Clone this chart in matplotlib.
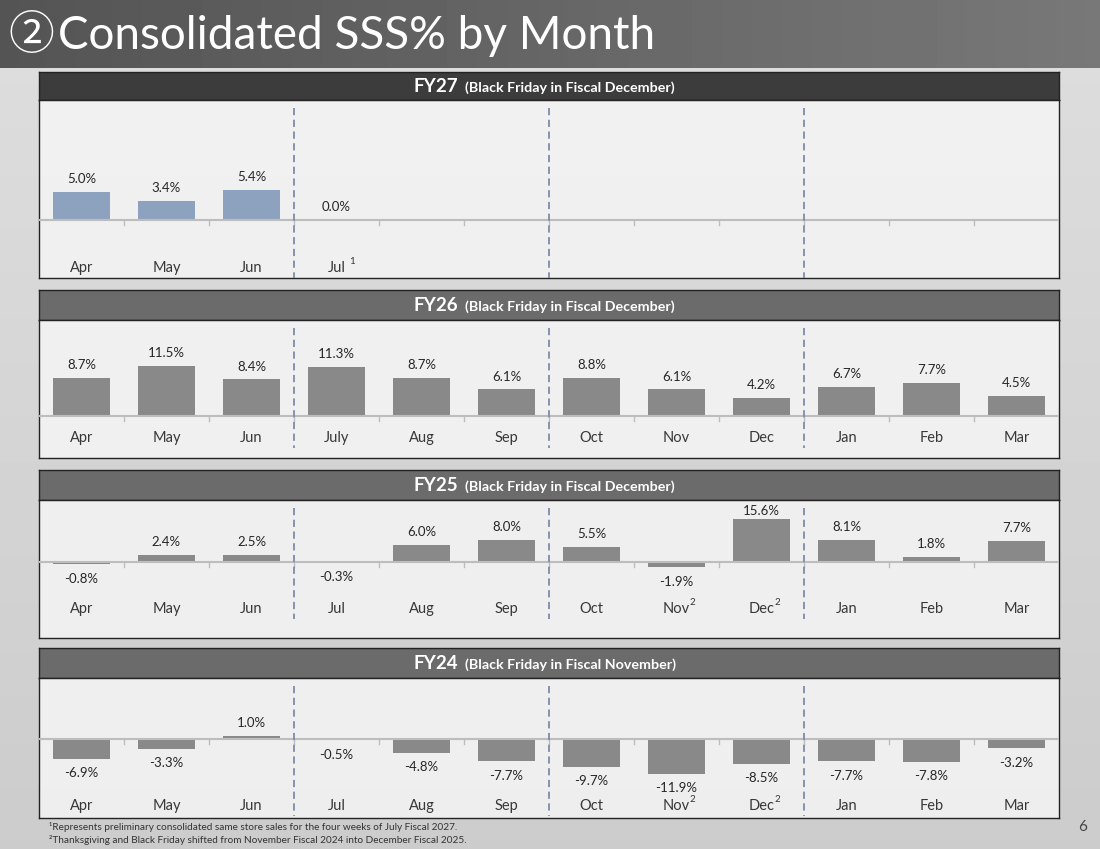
import numpy as np
import matplotlib.pyplot as plt
import matplotlib.transforms as mtransforms

plt.rcParams['font.family'] = ['Lato', 'DejaVu Sans']

months_27 = ['Apr', 'May', 'Jun', 'Jul']
sss_27 = [5.0, 3.4, 5.4, 0.0]

months_26 = ['Apr', 'May', 'Jun', 'July', 'Aug', 'Sep', 'Oct', 'Nov', 'Dec', 'Jan', 'Feb', 'Mar']
sss_26 = [8.7, 11.5, 8.4, 11.3, 8.7, 6.1, 8.8, 6.1, 4.2, 6.7, 7.7, 4.5]

months_25 = ['Apr', 'May', 'Jun', 'Jul', 'Aug', 'Sep', 'Oct', 'Nov', 'Dec', 'Jan', 'Feb', 'Mar']
sss_25 = [-0.8, 2.4, 2.5, -0.3, 6.0, 8.0, 5.5, -1.9, 15.6, 8.1, 1.8, 7.7]

months_24 = ['Apr', 'May', 'Jun', 'Jul', 'Aug', 'Sep', 'Oct', 'Nov', 'Dec', 'Jan', 'Feb', 'Mar']
sss_24 = [-6.9, -3.3, 1.0, -0.5, -4.8, -7.7, -9.7, -11.9, -8.5, -7.7, -7.8, -3.2]

notes_27 = {'Jul': '1'}
notes_25 = {'Nov': '2', 'Dec': '2'}
notes_24 = {'Nov': '2', 'Dec': '2'}

W, H = 1100, 849
fig = plt.figure(figsize=(11, 8.49), dpi=100)
fig.patch.set_facecolor('#dedede')


def px_axes(x0, y0, x1, y1, **kw):
    # pixel box (top-left origin) -> figure axes
    return fig.add_axes([x0 / W, 1 - y1 / H, (x1 - x0) / W, (y1 - y0) / H], **kw)


# background with a soft vertical gradient
bg = px_axes(0, 0, W, H)
grad = np.linspace(0.87, 0.80, 256).reshape(-1, 1)
bg.imshow(grad, cmap='gray', vmin=0, vmax=1, aspect='auto', extent=[0, 1, 0, 1])
bg.axis('off')

# title band
tb = px_axes(0, 0, W, 68)
grad = np.linspace(0.33, 0.47, 256).reshape(1, -1)
tb.imshow(grad, cmap='gray', vmin=0, vmax=1, aspect='auto', extent=[0, 1, 0, 1])
tb.axis('off')
tb.text(0.008, 0.47, '②', color='white', fontsize=33, va='center', ha='left',
        transform=tb.transAxes, family=['Noto Sans CJK JP', 'DejaVu Sans'])
tb.text(0.053, 0.47, 'Consolidated SSS% by Month', color='white', fontsize=33,
        va='center', ha='left', transform=tb.transAxes)

X0, X1 = 39, 1059

panels = [
    # name, subtitle, header colour, months, values, notes, bar colour,
    # header top, header bottom, panel bottom, baseline, px per %, label y
    ('FY27', '(Black Friday in Fiscal December)', '#3c3c3c', months_27, sss_27, notes_27, '#8da2bf',
     72, 100, 278, 220, 5.6, 268),
    ('FY26', '(Black Friday in Fiscal December)', '#6b6b6b', months_26, sss_26, {}, '#898989',
     290, 320, 458, 416, 4.35, 438),
    ('FY25', '(Black Friday in Fiscal December)', '#6b6b6b', months_25, sss_25, notes_25, '#898989',
     470, 500, 638, 562, 2.76, 609),
    ('FY24', '(Black Friday in Fiscal November)', '#6b6b6b', months_24, sss_24, notes_24, '#898989',
     648, 678, 818, 739, 2.9, 806),
]

for name, sub, hcol, months, vals, notes, bcol, ht, hb, pb, base, scale, ly in panels:
    # header
    hax = px_axes(X0, ht, X1, hb)
    hax.set_xlim(X0, X1)
    hax.set_ylim(0, 1)
    hax.set_facecolor(hcol)
    hax.set_xticks([])
    hax.set_yticks([])
    for s in hax.spines.values():
        s.set_color('#222222')
        s.set_linewidth(1)
    hax.text(458, 0.47, name, color='white', fontsize=13.5, fontweight='bold',
             ha='right', va='center')
    hax.text(465, 0.44, sub, color='white', fontsize=10.3, fontweight='bold',
             ha='left', va='center')

    # plot area
    ax = px_axes(X0, hb, X1, pb)
    ax.set_facecolor((0.96, 0.96, 0.96, 0.85))
    ax.set_xlim(-0.5, 11.5)
    ax.set_ylim(-(pb - base) / scale, (base - hb) / scale)
    ax.set_xticks([])
    ax.set_yticks([])
    for s in ax.spines.values():
        s.set_color('#222222')
        s.set_linewidth(1)

    x = np.arange(len(vals))
    ax.bar(x, vals, width=0.67, color=bcol, zorder=2)
    ax.axhline(0, color='#bdbdbd', lw=1.5, zorder=3)

    # small tick marks on the zero line at month boundaries
    tick_h = 5 / scale
    for b in np.arange(0.5, 11.5, 1):
        ax.plot([b, b], [0, -tick_h], color='#bdbdbd', lw=1, zorder=3)

    # quarter separators
    for q in [2.5, 5.5, 8.5]:
        ax.plot([q, q], [ax.get_ylim()[1] - 8 / scale, -(ly + 10 - base) / scale],
                color='#7d8ca8', lw=1.3, ls=(0, (4, 2.5)), zorder=4)

    top_room = (base - hb) * 0.72  # in points
    for xi, v in zip(x, vals):
        if v >= 0:
            off = min(5, top_room - v * scale * 0.72 - 12)
            ax.annotate(f'{v:.1f}%', xy=(xi, v), xytext=(0, off), textcoords='offset points',
                        ha='center', va='bottom', fontsize=9.5, color='#262626', zorder=5,
                        annotation_clip=False)
        else:
            ax.annotate(f'{v:.1f}%', xy=(xi, v), xytext=(0, -6), textcoords='offset points',
                        ha='center', va='top', fontsize=9.5, color='#262626', zorder=5,
                        annotation_clip=False)

    trans = mtransforms.blended_transform_factory(ax.transData, fig.transFigure)
    yf = 1 - ly / H
    for xi, m in zip(x, months):
        ax.text(xi, yf, m, transform=trans, ha='center', va='center',
                fontsize=10.5, color='#383838')
        if m in notes:
            ax.annotate(notes[m], xy=(xi, yf), xycoords=trans, xytext=(len(m) * 2.6 + 1.5, 5),
                        textcoords='offset points', ha='left', va='center',
                        fontsize=7, color='#333333')

fig.text(49 / W, 1 - 827 / H, '¹Represents preliminary consolidated same store sales for the four weeks of July Fiscal 2027.',
         fontsize=7.2, color='#333333', va='center', ha='left')
fig.text(49 / W, 1 - 840 / H, '²Thanksgiving and Black Friday shifted from November Fiscal 2024 into December Fiscal 2025.',
         fontsize=7.2, color='#333333', va='center', ha='left')
fig.text(1083 / W, 1 - 827 / H, '6', fontsize=11, color='#444444', ha='center', va='center')

fig.savefig('out.png', dpi=100)
